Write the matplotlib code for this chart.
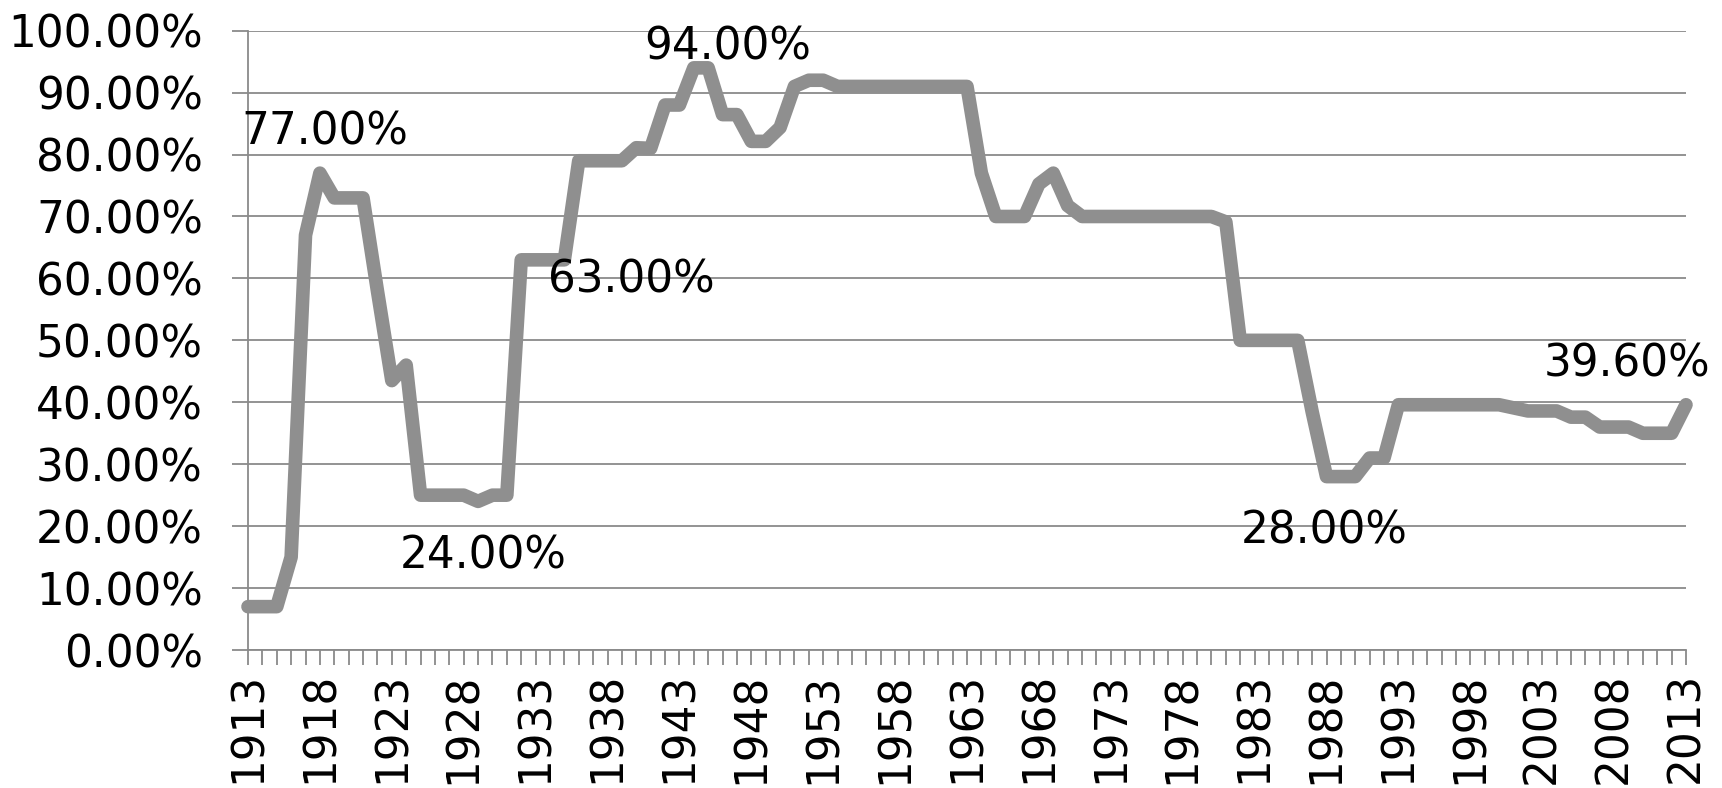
from __future__ import annotations

import matplotlib

matplotlib.use("Agg")
import matplotlib.pyplot as plt
import numpy as np
from matplotlib.ticker import FuncFormatter


YEARS = list(range(1913, 2014))

# Top marginal rate by year, in percent
RATES = [
    7.0, 7.0, 7.0, 15.0, 67.0, 77.0, 73.0, 73.0, 73.0, 58.0,  # 1913-1922
    43.5, 46.0, 25.0, 25.0, 25.0, 25.0, 24.0, 25.0, 25.0, 63.0,  # 1923-1932
    63.0, 63.0, 63.0, 79.0, 79.0, 79.0, 79.0, 81.1, 81.0, 88.0,  # 1933-1942
    88.0, 94.0, 94.0, 86.45, 86.45, 82.13, 82.13, 84.36, 91.0, 92.0,  # 1943-1952
    92.0, 91.0, 91.0, 91.0, 91.0, 91.0, 91.0, 91.0, 91.0, 91.0,  # 1953-1962
    91.0, 77.0, 70.0, 70.0, 70.0, 75.25, 77.0, 71.75, 70.0, 70.0,  # 1963-1972
    70.0, 70.0, 70.0, 70.0, 70.0, 70.0, 70.0, 70.0, 69.13, 50.0,  # 1973-1982
    50.0, 50.0, 50.0, 50.0, 38.5, 28.0, 28.0, 28.0, 31.0, 31.0,  # 1983-1992
    39.6, 39.6, 39.6, 39.6, 39.6, 39.6, 39.6, 39.6, 39.1, 38.6,  # 1993-2002
    38.6, 38.6, 37.6, 37.6, 36.0, 36.0, 36.0, 35.0, 35.0, 35.0,  # 2003-2012
    39.6,  # 2013
]

# Years that get a value label, with the label offset in pixels
LABEL_YEARS = [1918, 1945, 1935, 1929, 1988, 2013]
LABEL_OFFSETS = [(5, 28.5), (20, 8), (67, -33), (5, -67), (-2, -67), (-59, 28)]

Y_TICKS = list(range(0, 101, 10))
X_LABEL_STEP = 5

LINE_COLOR = "#8f8f8f"
GRID_COLOR = "#8a8a8a"
FONT_SIZE = 31.5


def _style() -> None:
    plt.rcParams.update(
        {
            "font.family": ["DejaVu Sans"],
            "font.size": FONT_SIZE,
            "figure.facecolor": "white",
            "axes.facecolor": "white",
            "axes.edgecolor": GRID_COLOR,
            "axes.linewidth": 1.3,
        }
    )


def build_rate_plot() -> None:
    fig = plt.figure(figsize=(17.22, 7.88), dpi=100)
    ax = fig.add_axes([248 / 1722, 1 - 650 / 788, (1686 - 248) / 1722, (650 - 30.7) / 788])

    years = np.array(YEARS)
    rates = np.array(RATES)

    ax.plot(
        years,
        rates,
        color=LINE_COLOR,
        lw=9.8,
        solid_joinstyle="round",
        solid_capstyle="round",
        clip_on=False,
        zorder=3,
    )

    ax.set_xlim(YEARS[0], YEARS[-1])
    ax.set_ylim(Y_TICKS[0], Y_TICKS[-1])

    ax.set_yticks(Y_TICKS)
    ax.yaxis.set_major_formatter(FuncFormatter(lambda v, _: f"{v:.2f}%"))
    ax.grid(axis="y", color=GRID_COLOR, lw=1.3, zorder=1)
    ax.set_axisbelow(True)

    ax.set_xticks(YEARS)
    ax.set_xticklabels(
        [str(y) if (y - YEARS[0]) % X_LABEL_STEP == 0 else "" for y in YEARS],
        rotation=90,
    )

    ax.tick_params(axis="y", direction="out", length=11.5, width=1.3, color=GRID_COLOR, pad=21)
    ax.tick_params(axis="x", direction="out", length=11, width=1.3, color=GRID_COLOR, pad=5)

    for side in ("top", "right"):
        ax.spines[side].set_visible(False)

    for year, (dx, dy) in zip(LABEL_YEARS, LABEL_OFFSETS):
        value = RATES[YEARS.index(year)]
        ax.annotate(
            f"{value:.2f}%",
            xy=(year, value),
            xytext=(dx, dy),
            textcoords="offset pixels",
            ha="center",
            va="baseline",
            fontsize=FONT_SIZE,
            color="black",
            zorder=4,
            annotation_clip=False,
        )

    fig.savefig("out.png", dpi=100)
    plt.close(fig)


def main() -> None:
    _style()
    build_rate_plot()


if __name__ == "__main__":
    main()
